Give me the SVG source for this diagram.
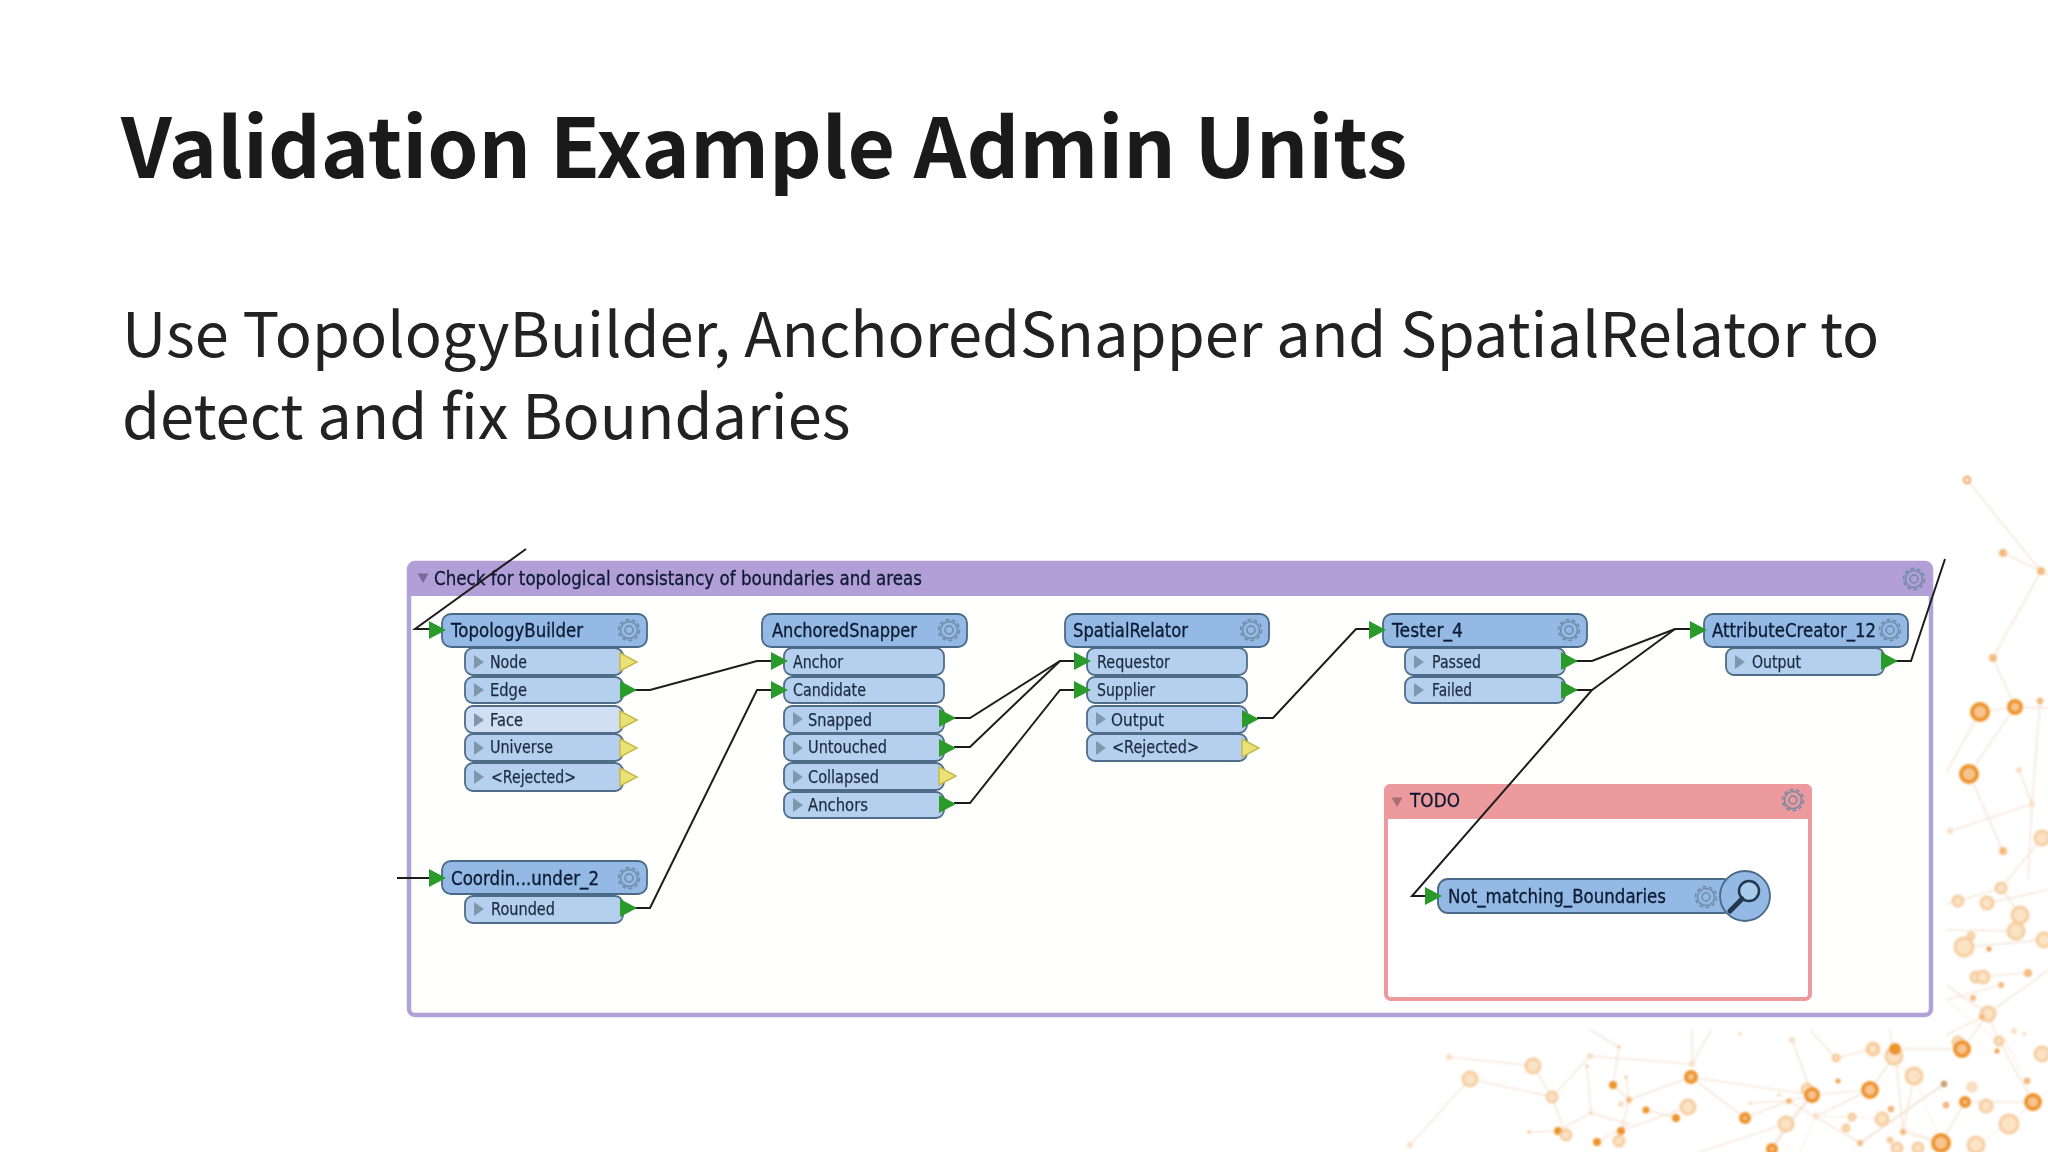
<svg xmlns="http://www.w3.org/2000/svg" width="2048" height="1152" viewBox="0 0 2048 1152">
<style>
.title{font-family:"Noto Sans CJK SC","Noto Sans",sans-serif;font-weight:700;font-size:82px;fill:#1a1a1a}
.body{font-family:"Noto Sans CJK SC","Noto Sans",sans-serif;font-size:61.400px;fill:#222}
.t{font-family:"DejaVu Sans","Liberation Sans",sans-serif;font-size:19px;fill:#0a1a30;stroke:#0a1a30;stroke-width:.3}
.p{font-family:"DejaVu Sans","Liberation Sans",sans-serif;font-size:17px;fill:#1c2c40;stroke:#1c2c40;stroke-width:.25}
.h{fill:#93b9e4;stroke:#4a6a86;stroke-width:1.800}
.o{fill:#b5d0ee;stroke:#4f6c88;stroke-width:1.800}
.f{fill:#d0e0f2}
.g{fill:#2a9a2a}
.y{fill:#e9e276;stroke:#c9b84c;stroke-width:1.500}
.c{fill:#7f97ad}
.conn{fill:none;stroke:#1e1e1e;stroke-width:2}
.gear{fill:none;stroke:#6f8aa6;stroke-width:1.500}
.e{fill:none;stroke:#efdcc6;stroke-width:1.100}
.e2{fill:none;stroke:#f7ece0;stroke-width:1}
.s{fill:#f6c48e;stroke:#ee9326;stroke-width:4}
.l{fill:#fbe3c6;stroke:#f6cd9f;stroke-width:3}
.m{fill:#f4ba7e}
.n{fill:#f9dfc2}
.r{fill:#fff;stroke:#ee9a3a;stroke-width:2}
</style>
<defs>
<filter id="soft" x="-2%" y="-2%" width="104%" height="104%"><feGaussianBlur stdDeviation="0.500"/></filter>
<filter id="soft2" x="-2%" y="-2%" width="104%" height="104%"><feGaussianBlur stdDeviation="0.800"/></filter>
<path id="tri" d="M-8 -9L9 0L-8 9Z"/>
<path id="col" d="M-5 -7L5 0L-5 7Z"/>
<path id="dn" d="M-5.500 -4.500L5.500 -4.500L0 5Z"/>
<g id="gr">
<circle r="10.500" class="gear" stroke-dasharray="4 2.500" stroke-width="3"/>
<circle r="8.500" class="gear"/>
<circle r="4" class="gear"/>
</g>
</defs>
<rect width="2048" height="1152" fill="#fff"/>

<g id="network" filter="url(#soft2)">
<path class="e" d="M1967 480L2041 571L1993 658L2015 707L1969 774L2003 851M2003 553L2041 571M2041 571L2048 575M1980 712L2015 707L2048 708M1980 712L1946 773M2019 770L2032 804L2028 880M2040 701L2032 804M1950 831L2032 804M2042 838L2001 888M2001 888L1958 901M2001 888L2020 915M1958 901L1946 905M1987 903L2048 890M1946 930L2016 931M1964 947L2044 940M1976 977L2028 973M1946 985L1988 1014M1988 1014L2048 970M1988 1014L1946 1035M2001 985L1946 1000M1988 1014L1962 1049M1988 1014L1999 1041M1999 1041L2033 1102M1962 1049L1895 1049M1944 1084L1860 1143M1965 1102L2033 1102M1965 1102L1941 1143M1895 1049L1903 1132L1941 1143M1914 1076L1903 1132"/>
<path class="e" d="M1449 1057L1533 1066M1470 1079L1552 1097M1533 1066L1552 1097L1590 1056L1692 1064M1552 1097L1566 1135M1410 1145L1470 1079M1691 1077L1629 1100L1621 1131M1691 1077L1745 1118L1789 1101L1860 1143L1944 1084M1789 1101L1812 1095L1870 1090M1691 1077L1812 1095M1792 1040L1812 1095M1692 1030L1692 1064M1711 1030L1692 1064M1590 1030L1619 1047L1613 1085L1629 1100M1587 1066L1591 1113L1558 1131L1529 1132M1626 1077L1629 1100L1621 1131M1646 1110L1676 1118M1621 1131L1688 1107M1591 1113L1629 1124L1597 1142M1786 1124L1812 1095M1786 1124L1772 1149M1786 1124L1700 1152M1873 1049L1836 1058M1890 1030L1894 1056L1870 1090L1816 1116M1750 1103L1789 1101M1812 1095L1772 1149M1810 1030L1836 1058"/>
<path class="e2" d="M1946 1000L2010 1050M2000 1030L2030 1090M1883 1119L1852 1117L1846 1128M1873 1049L1914 1076M1914 1076L1941 1143M1882 1119L1941 1143M2009 1124L2048 1090M1976 1145L2009 1124M2033 1102L2009 1124M1852 1117L1816 1116L1800 1152M1860 1143L1852 1152"/>
<g id="dots">
<circle class="r" cx="1967" cy="480" r="3"/>
<circle class="m" cx="2003" cy="553" r="4"/><circle class="m" cx="2041" cy="571" r="4"/><circle class="m" cx="1993" cy="658" r="4"/>
<circle class="s" cx="1980" cy="712" r="8"/><circle class="s" cx="2015" cy="707" r="6"/><circle class="r" cx="2040" cy="701" r="2"/><circle class="s" cx="1969" cy="774" r="8"/>
<circle class="n" cx="2019" cy="770" r="3"/><circle class="n" cx="2032" cy="804" r="3"/><circle class="l" cx="2042" cy="838" r="7"/><circle class="m" cx="2003" cy="851" r="4"/><circle class="n" cx="1950" cy="831" r="3"/>
<circle class="l" cx="2001" cy="888" r="5"/><circle class="l" cx="1958" cy="901" r="5"/><circle class="l" cx="1987" cy="903" r="6"/><circle class="l" cx="2020" cy="915" r="8"/><circle class="l" cx="2016" cy="931" r="8"/><circle class="l" cx="2044" cy="940" r="7"/><circle class="l" cx="1964" cy="947" r="9"/><circle class="l" cx="1971" cy="936" r="3"/><circle class="r" cx="1989" cy="949" r="1.500"/>
<circle class="l" cx="1976" cy="977" r="5"/><circle class="l" cx="1983" cy="977" r="6"/><circle class="m" cx="2028" cy="973" r="4"/><circle class="m" cx="2001" cy="985" r="3"/><circle class="m" cx="1973" cy="998" r="3"/><circle class="l" cx="1988" cy="1014" r="7"/><circle class="m" cx="1982" cy="1017" r="3"/><circle class="n" cx="2014" cy="1031" r="3"/><circle class="n" cx="2024" cy="1034" r="2"/>
<circle class="l" cx="1958" cy="1042" r="5"/><circle class="s" cx="1962" cy="1049" r="7"/><circle class="l" cx="1999" cy="1041" r="4"/><circle class="l" cx="2042" cy="1054" r="7"/><circle class="r" cx="1997" cy="1051" r="1.500"/>
<circle class="l" cx="1894" cy="1056" r="8"/><circle cx="1895" cy="1049" r="6" fill="#ee9326"/><circle class="l" cx="1873" cy="1049" r="6"/><circle class="l" cx="1914" cy="1076" r="8"/><circle class="s" cx="1870" cy="1090" r="7"/><circle class="r" cx="1944" cy="1084" r="2" style="stroke:#b8742a"/><circle class="n" cx="1972" cy="1087" r="6"/><circle class="s" cx="1965" cy="1102" r="4"/><circle class="l" cx="1986" cy="1106" r="6"/><circle class="s" cx="2033" cy="1102" r="7"/><circle class="r" cx="1946" cy="1105" r="2"/><circle class="r" cx="2027" cy="1081" r="2"/><circle class="l" cx="2009" cy="1124" r="9"/>
<circle class="s" cx="1941" cy="1143" r="8"/><circle class="l" cx="1976" cy="1145" r="8"/><circle class="l" cx="1918" cy="1148" r="5"/><circle class="l" cx="1897" cy="1148" r="5"/><circle class="l" cx="1882" cy="1119" r="6"/><circle class="l" cx="1852" cy="1117" r="3"/><circle class="r" cx="1891" cy="1109" r="2"/><circle class="m" cx="1903" cy="1132" r="3"/><circle class="m" cx="1860" cy="1143" r="3"/><circle class="l" cx="1890" cy="1140" r="2"/>
<circle class="n" cx="1449" cy="1057" r="3"/><circle class="l" cx="1533" cy="1066" r="7"/><circle class="l" cx="1470" cy="1079" r="7"/><circle class="l" cx="1552" cy="1097" r="5"/><circle class="n" cx="1590" cy="1056" r="3"/><circle class="n" cx="1692" cy="1064" r="3"/><circle class="s" cx="1691" cy="1077" r="5"/><circle class="s" cx="1613" cy="1085" r="2"/><circle class="m" cx="1629" cy="1100" r="3"/><circle class="n" cx="1621" cy="1104" r="3"/><circle class="l" cx="1688" cy="1107" r="7"/><circle class="s" cx="1646" cy="1110" r="1.500"/><circle class="s" cx="1676" cy="1118" r="2"/><circle class="s" cx="1745" cy="1118" r="4"/><circle class="s" cx="1558" cy="1131" r="2"/><circle class="l" cx="1566" cy="1135" r="5"/><circle class="s" cx="1621" cy="1131" r="2"/><circle class="s" cx="1597" cy="1142" r="2"/><circle class="l" cx="1619" cy="1141" r="5"/><circle class="n" cx="1410" cy="1145" r="3"/>
<circle class="m" cx="1529" cy="1132" r="1.500"/><circle class="m" cx="1591" cy="1113" r="1.500"/><circle class="m" cx="1587" cy="1066" r="1.500"/><circle class="m" cx="1619" cy="1047" r="1.500"/><circle class="m" cx="1626" cy="1077" r="1.500"/><circle class="n" cx="1740" cy="1034" r="2"/><circle class="n" cx="1792" cy="1040" r="3"/><circle class="l" cx="1836" cy="1058" r="3"/><circle class="l" cx="1873" cy="1049" r="5"/><circle class="l" cx="1807" cy="1089" r="5"/><circle class="s" cx="1812" cy="1095" r="6"/><circle class="m" cx="1789" cy="1101" r="3"/><circle class="l" cx="1786" cy="1124" r="7"/><circle class="s" cx="1772" cy="1149" r="4"/><circle class="l" cx="1846" cy="1128" r="3"/><circle class="n" cx="1750" cy="1103" r="2"/><circle class="n" cx="1779" cy="1095" r="2"/><circle class="n" cx="1816" cy="1116" r="3"/><circle class="r" cx="1838" cy="1081" r="1.500"/>
</g>
</g>

<text class="title" x="121" y="178">Validation Example Admin Units</text>
<text class="body" x="122" y="357">Use TopologyBuilder, AnchoredSnapper and SpatialRelator to</text>
<text class="body" x="122" y="439">detect and fix Boundaries</text>

<rect x="392" y="530" width="1554" height="499" fill="#fff"/>

<g filter="url(#soft)">
<g id="bookmark-main">
<rect x="409" y="563" width="1522" height="452" rx="6" fill="#fffffe" stroke="#b1a3d8" stroke-width="4.500"/>
<path d="M408 596V569a8 8 0 0 1 8-8H1924a8 8 0 0 1 8 8V596Z" fill="#b29fd8"/>
<use href="#dn" x="423" y="578" fill="#7a6b95"/>
<text class="t" x="434" y="585" textLength="488" lengthAdjust="spacingAndGlyphs">Check for topological consistancy of boundaries and areas</text>
<use href="#gr" x="1914" y="579"/>
</g>

<g id="bookmark-todo">
<rect x="1386" y="786" width="424" height="213" rx="5" fill="#fff" stroke="#ec9a9e" stroke-width="4"/>
<path d="M1384 819V790a6 6 0 0 1 6-6H1806a6 6 0 0 1 6 6V819Z" fill="#ec9a9e"/>
<use href="#dn" x="1397" y="802" fill="#a86e72"/>
<text class="t" x="1410" y="807" textLength="50" lengthAdjust="spacingAndGlyphs">TODO</text>
<use href="#gr" x="1793" y="800"/>
</g>

<g id="connectors">
<path class="conn" d="M526 549L415 629H434"/>
<path class="conn" d="M397 878H432"/>
<path class="conn" d="M635 690H650L757 661H775"/>
<path class="conn" d="M635 908H650L757 690H775"/>
<path class="conn" d="M954 718H970L1060 661H1076"/>
<path class="conn" d="M954 747H970L1060 661"/>
<path class="conn" d="M954 803H970L1060 690H1076"/>
<path class="conn" d="M1257 718H1273L1356 629H1370"/>
<path class="conn" d="M1574 661H1592L1675 629H1693"/>
<path class="conn" d="M1574 690H1592L1675 629"/>
<path class="conn" d="M1427 896H1412L1592 690"/>
<path class="conn" d="M1895 661H1911L1945 559"/>
</g>

<g id="TopologyBuilder">
<rect class="o" x="465" y="648" width="158" height="27" rx="8"/><rect class="o" x="465" y="677" width="158" height="26" rx="8"/><rect class="o f" x="465" y="706" width="158" height="27" rx="8"/><rect class="o" x="465" y="734" width="158" height="27" rx="8"/><rect class="o" x="465" y="763" width="158" height="28" rx="8"/>
<rect class="h" x="442" y="614" width="205" height="33" rx="9"/>
<use href="#gr" x="629" y="630"/>
<use href="#tri" x="437" y="630" class="g"/>
<use href="#col" x="479" y="662" class="c"/><use href="#col" x="479" y="690" class="c"/><use href="#col" x="479" y="720" class="c"/><use href="#col" x="479" y="748" class="c"/><use href="#col" x="479" y="777" class="c"/>
<use href="#tri" x="628" y="662" class="y"/><use href="#tri" x="628" y="690" class="g"/><use href="#tri" x="628" y="720" class="y"/><use href="#tri" x="628" y="748" class="y"/><use href="#tri" x="628" y="777" class="y"/>
<text class="t" x="451" y="637" textLength="132" lengthAdjust="spacingAndGlyphs">TopologyBuilder</text>
<text class="p" x="490" y="668" textLength="37" lengthAdjust="spacingAndGlyphs">Node</text>
<text class="p" x="490" y="696" textLength="37" lengthAdjust="spacingAndGlyphs">Edge</text>
<text class="p" x="490" y="726" textLength="33" lengthAdjust="spacingAndGlyphs">Face</text>
<text class="p" x="490" y="753" textLength="63" lengthAdjust="spacingAndGlyphs">Universe</text>
<text class="p" x="491" y="783" textLength="85" lengthAdjust="spacingAndGlyphs">&lt;Rejected&gt;</text>
</g>

<g id="Coordinate-Rounder">
<rect class="o" x="465" y="896" width="158" height="27" rx="8"/>
<rect class="h" x="442" y="861" width="205" height="33" rx="9"/>
<use href="#gr" x="629" y="878"/>
<use href="#tri" x="437" y="878" class="g"/>
<use href="#col" x="479" y="909" class="c"/>
<use href="#tri" x="628" y="908" class="g"/>
<text class="t" x="451" y="885" textLength="148" lengthAdjust="spacingAndGlyphs">Coordin...under_2</text>
<text class="p" x="491" y="915" textLength="64" lengthAdjust="spacingAndGlyphs">Rounded</text>
</g>

<g id="AnchoredSnapper">
<rect class="o" x="784" y="648" width="160" height="27" rx="8"/><rect class="o" x="784" y="677" width="160" height="26" rx="8"/><rect class="o" x="784" y="706" width="160" height="27" rx="8"/><rect class="o" x="784" y="734" width="160" height="27" rx="8"/><rect class="o" x="784" y="763" width="160" height="27" rx="8"/><rect class="o" x="784" y="792" width="160" height="26" rx="8"/>
<rect class="h" x="762" y="614" width="205" height="33" rx="9"/>
<use href="#gr" x="949" y="630"/>
<use href="#tri" x="779" y="661" class="g"/><use href="#tri" x="779" y="690" class="g"/>
<use href="#col" x="798" y="719" class="c"/><use href="#col" x="798" y="748" class="c"/><use href="#col" x="798" y="777" class="c"/><use href="#col" x="798" y="805" class="c"/>
<use href="#tri" x="947" y="718" class="g"/><use href="#tri" x="947" y="748" class="g"/><use href="#tri" x="947" y="776" class="y"/><use href="#tri" x="947" y="804" class="g"/>
<text class="t" x="772" y="637" textLength="145" lengthAdjust="spacingAndGlyphs">AnchoredSnapper</text>
<text class="p" x="793" y="668" textLength="50" lengthAdjust="spacingAndGlyphs">Anchor</text>
<text class="p" x="793" y="696" textLength="73" lengthAdjust="spacingAndGlyphs">Candidate</text>
<text class="p" x="808" y="726" textLength="64" lengthAdjust="spacingAndGlyphs">Snapped</text>
<text class="p" x="808" y="753" textLength="79" lengthAdjust="spacingAndGlyphs">Untouched</text>
<text class="p" x="808" y="783" textLength="71" lengthAdjust="spacingAndGlyphs">Collapsed</text>
<text class="p" x="808" y="811" textLength="60" lengthAdjust="spacingAndGlyphs">Anchors</text>
</g>

<g id="SpatialRelator">
<rect class="o" x="1087" y="648" width="160" height="27" rx="8"/><rect class="o" x="1087" y="677" width="160" height="26" rx="8"/><rect class="o" x="1087" y="706" width="160" height="27" rx="8"/><rect class="o" x="1087" y="734" width="160" height="27" rx="8"/>
<rect class="h" x="1065" y="614" width="204" height="33" rx="9"/>
<use href="#gr" x="1251" y="630"/>
<use href="#tri" x="1082" y="661" class="g"/><use href="#tri" x="1082" y="690" class="g"/>
<use href="#col" x="1101" y="719" class="c"/><use href="#col" x="1101" y="748" class="c"/>
<use href="#tri" x="1250" y="719" class="g"/><use href="#tri" x="1250" y="748" class="y"/>
<text class="t" x="1073" y="637" textLength="115" lengthAdjust="spacingAndGlyphs">SpatialRelator</text>
<text class="p" x="1097" y="668" textLength="73" lengthAdjust="spacingAndGlyphs">Requestor</text>
<text class="p" x="1097" y="696" textLength="58" lengthAdjust="spacingAndGlyphs">Supplier</text>
<text class="p" x="1111" y="726" textLength="53" lengthAdjust="spacingAndGlyphs">Output</text>
<text class="p" x="1112" y="753" textLength="87" lengthAdjust="spacingAndGlyphs">&lt;Rejected&gt;</text>
</g>

<g id="Tester_4">
<rect class="o" x="1405" y="648" width="160" height="27" rx="8"/><rect class="o" x="1405" y="677" width="160" height="26" rx="8"/>
<rect class="h" x="1383" y="614" width="204" height="33" rx="9"/>
<use href="#gr" x="1569" y="630"/>
<use href="#tri" x="1377" y="630" class="g"/>
<use href="#col" x="1419" y="662" class="c"/><use href="#col" x="1419" y="690" class="c"/>
<use href="#tri" x="1569" y="661" class="g"/><use href="#tri" x="1569" y="690" class="g"/>
<text class="t" x="1392" y="637" textLength="71" lengthAdjust="spacingAndGlyphs">Tester_4</text>
<text class="p" x="1432" y="668" textLength="49" lengthAdjust="spacingAndGlyphs">Passed</text>
<text class="p" x="1432" y="696" textLength="40" lengthAdjust="spacingAndGlyphs">Failed</text>
</g>

<g id="AttributeCreator_12">
<rect class="o" x="1726" y="648" width="158" height="27" rx="8"/>
<rect class="h" x="1704" y="614" width="204" height="33" rx="9"/>
<use href="#gr" x="1890" y="630"/>
<use href="#tri" x="1698" y="630" class="g"/>
<use href="#col" x="1740" y="662" class="c"/>
<use href="#tri" x="1889" y="661" class="g"/>
<text class="t" x="1712" y="637" textLength="164" lengthAdjust="spacingAndGlyphs">AttributeCreator_12</text>
<text class="p" x="1752" y="668" textLength="49" lengthAdjust="spacingAndGlyphs">Output</text>
</g>

<g id="Not_matching_Boundaries">
<rect class="h" x="1438" y="879" width="295" height="34" rx="10"/>
<use href="#tri" x="1433" y="896" class="g"/>
<use href="#gr" x="1706" y="897"/>
<circle cx="1745" cy="896" r="25" class="h"/>
<circle cx="1749" cy="891" r="10" fill="#a9cbec" stroke="#24384e" stroke-width="2.500"/>
<path d="M1742 899L1730 911" stroke="#24384e" stroke-width="5" stroke-linecap="round"/>
<text class="t" x="1448" y="903" textLength="218" lengthAdjust="spacingAndGlyphs">Not_matching_Boundaries</text>
</g>
</g>
</svg>
